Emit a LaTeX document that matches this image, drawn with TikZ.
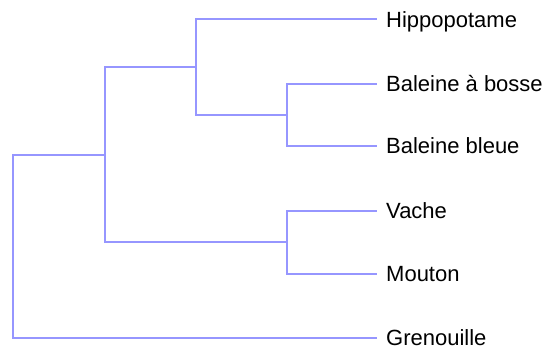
\documentclass[tikz,border=0pt]{standalone}
\usepackage{fontspec}
\setmainfont{Liberation Sans}
\definecolor{branch}{RGB}{150,150,255}
\begin{document}
\begin{tikzpicture}[x=1pt,y=-1pt,
  edge/.style={draw=branch,line width=2pt},
  leaf/.style={anchor=west,inner xsep=9pt,inner ysep=0pt,text height=15.75pt,text depth=0pt,
    font=\fontsize{22}{26}\selectfont}]
\useasboundingbox (0,0) rectangle (546,349);
% leaves
\node[leaf] (hippo)  at (377,19.3)  {Hippopotame};
\node[leaf] (bosse)  at (377,84)    {Baleine à bosse};
\node[leaf] (bleue)  at (377,145.7) {Baleine bleue};
\node[leaf] (vache)  at (377,210.7) {Vache};
\node[leaf] (mouton) at (377,274)   {Mouton};
\node[leaf] (gren)   at (377,338)   {Grenouille};
% internal nodes
\coordinate (root) at (13.3,246.4);
\coordinate (n2)   at (105,154.8);
\coordinate (n3)   at (196,67);
\coordinate (whale) at (286.5,115);
\coordinate (cow)  at (286.5,242.4);
% branches
\draw[edge] (root) |- (n2);
\draw[edge] (root) |- (gren.west);
\draw[edge] (n2) |- (n3);
\draw[edge] (n2) |- (cow);
\draw[edge] (n3) |- (hippo.west);
\draw[edge] (n3) |- (whale);
\draw[edge] (whale) |- (bosse.west);
\draw[edge] (whale) |- (bleue.west);
\draw[edge] (cow) |- (vache.west);
\draw[edge] (cow) |- (mouton.west);
\end{tikzpicture}
\end{document}
